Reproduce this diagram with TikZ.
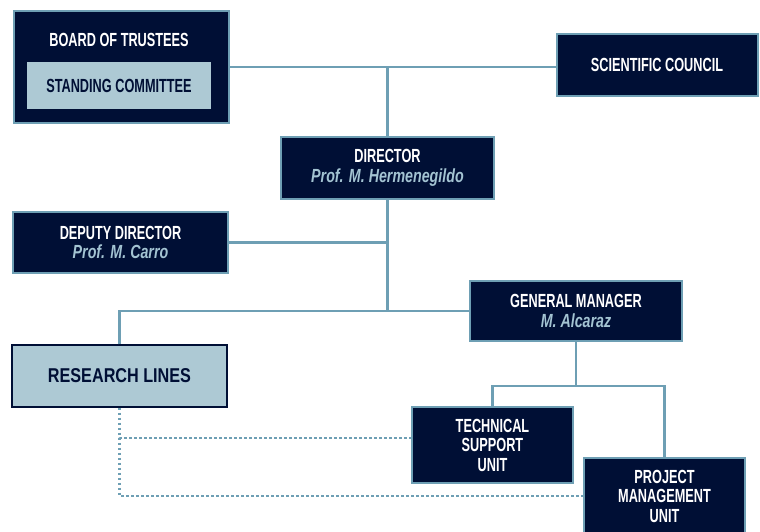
\documentclass[tikz,border=0pt]{standalone}
\usepackage{fontspec}
\setmainfont{Liberation Sans}
\newfontfamily\capsfont{Liberation Sans}[FakeStretch=0.67]
\newfontfamily\namesfont{Liberation Sans}[FakeStretch=0.75]
\newfontfamily\widefont{Liberation Sans}[FakeStretch=0.81]
\definecolor{navy}{HTML}{000F35}
\definecolor{steel}{HTML}{6E9FB4}
\definecolor{pale}{HTML}{ADC9D4}
\definecolor{paletext}{HTML}{A3C3D2}
\newcommand{\who}[1]{\\{\namesfont\bfseries\itshape\color{paletext}#1}}

\begin{document}
\begin{tikzpicture}[x=1pt,y=-1pt,
    unit/.style={draw=steel, line width=2pt, fill=navy, text=white, align=center,
        inner sep=0pt, font={\capsfont\bfseries\fontsize{19}{19.5}\selectfont}},
    link/.style={draw=steel, line width=2.5pt},
    dotlink/.style={draw=steel, line width=2.5pt, dash pattern=on 2.5pt off 2.5pt}]
            \clip (0,0) rectangle (760,532);
            % boxes
            \node[unit, minimum width=215pt, minimum height=112pt] (board) at (121,67) {};
            \node[text=white, font={\capsfont\bfseries\fontsize{19}{19.5}\selectfont}] (boardname) at (119,40) {BOARD OF TRUSTEES};
            \node[fill=pale, text=navy, minimum width=184pt, minimum height=47pt, inner sep=0pt,
                font={\capsfont\bfseries\fontsize{19}{19.5}\selectfont}] (standing) at (119,85.5) {STANDING COMMITTEE};
            \node[unit, minimum width=201pt, minimum height=62pt] (council) at (657,65) {SCIENTIFIC COUNCIL};
            \node[unit, minimum width=213pt, minimum height=62pt] (director) at (387.5,168) {DIRECTOR\who{Prof. M. Hermenegildo}};
            \node[unit, minimum width=215pt, minimum height=61pt] (deputy) at (120.5,242.5) {DEPUTY DIRECTOR\who{Prof. M. Carro}};
            \node[unit, minimum width=212pt, minimum height=60pt] (manager) at (576,311) {GENERAL MANAGER\who{M. Alcaraz}};
            \node[draw=navy, line width=1.5pt, fill=pale, text=navy, inner sep=0pt,
                minimum width=215pt, minimum height=62pt,
                font={\widefont\bfseries\fontsize{20}{21}\selectfont}] (research) at (119.5,376) {RESEARCH LINES};
            \node[unit, minimum width=161pt, minimum height=76pt] (technical) at (492.5,445) {TECHNICAL\\SUPPORT\\UNIT};
            \node[unit, minimum width=161pt, minimum height=76pt] (project) at (664.5,496) {PROJECT\\MANAGEMENT\\UNIT};
            % connectors
            \draw[link] (board.east) -- (council.west |- board.east);
            \draw[link] (director.north) -- (director.north |- board.east);
            \draw[link] (deputy.east) -- (deputy.east -| director.south);
            \draw[link] (director.south) -- (director.south |- manager.west);
            \draw[link] (research.north) |- (manager.west);
            \coordinate (split) at (576,386);
            \draw[link] (manager.south) -- (split);
            \draw[link] (technical.north) |- (split) -| (project.north);
            \draw[dotlink] (research.south) |- ([yshift=7pt]technical.west);
            \draw[dotlink] (research.south) |- (project.west);
        \end{tikzpicture}
\end{document}
